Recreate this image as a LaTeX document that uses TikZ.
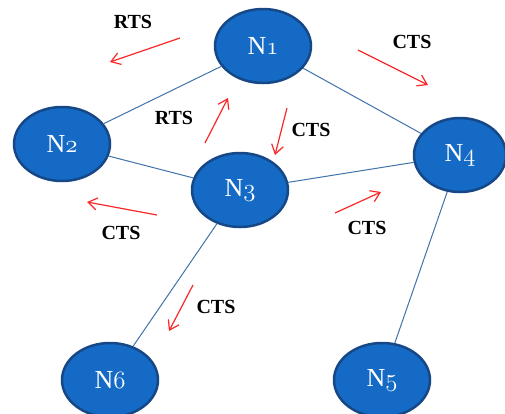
\documentclass[tikz,border=0pt]{standalone}
\usepackage{fontspec}
\newfontfamily\lblfont{Liberation Serif}
\usetikzlibrary{arrows.meta,shapes.geometric}
\definecolor{nodefill}{RGB}{20,106,196}
\definecolor{nodeborder}{RGB}{22,72,135}
\definecolor{edgecol}{RGB}{65,115,170}
\definecolor{arrred}{RGB}{250,40,40}
\newcommand{\osn}[1]{{\usefont{OML}{cmm}{m}{it}#1}}
\begin{document}
\begin{tikzpicture}[x=1pt,y=-1pt,
  netnode/.style={ellipse,draw=nodeborder,line width=2.5pt,fill=nodefill,
    minimum width=96pt,minimum height=74pt,inner sep=0pt,text=white,
    font=\lblfont\fontsize{26}{28}\selectfont},
  edge/.style={draw=edgecol,line width=1pt},
  msg/.style={draw=arrred,line width=1.2pt,-{Straight Barb[length=9pt,width=12pt,line width=1.2pt]}},
  msglabel/.style={font=\lblfont\bfseries\fontsize{20}{22}\selectfont,text=black,inner sep=0pt}]
\clip (0,0) rectangle (505,413);
\fill[white] (0,0) rectangle (505,413);
% nodes
\node[netnode] (n1) at (263,46) {N\osn{1}};
\node[netnode] (n2) at (62,144) {N\osn{2}};
\node[netnode] (n3) at (240,190) {N\osn{3}};
\node[netnode,minimum width=92pt] (n4) at (460,155) {N\osn{4}};
\node[netnode] (n5) at (382,380) {N\osn{5}};
\node[netnode] (n6) at (110,380) {N\osn{6}};
% edges
\draw[edge] (n1) -- (n2);
\draw[edge] (n1) -- (n4);
\draw[edge] (n2) -- (n3);
\draw[edge] (n3) -- (n4);
\draw[edge] (n3) -- (n6);
\draw[edge] (n4) -- (n5);
% message arrows
\coordinate (a1s) at (180,38);  \coordinate (a1e) at (110,62);
\coordinate (a2s) at (205,143); \coordinate (a2e) at (228,98);
\coordinate (a3s) at (287,108); \coordinate (a3e) at (275,155);
\coordinate (a4s) at (358,50);  \coordinate (a4e) at (428,85);
\coordinate (a5s) at (157,215); \coordinate (a5e) at (87,202);
\coordinate (a6s) at (335,213); \coordinate (a6e) at (381,192);
\coordinate (a7s) at (193,285); \coordinate (a7e) at (169,331);
\draw[msg] (a1s) -- (a1e);
\draw[msg] (a2s) -- (a2e);
\draw[msg] (a3s) -- (a3e);
\draw[msg] (a4s) -- (a4e);
\draw[msg] (a5s) -- (a5e);
\draw[msg] (a6s) -- (a6e);
\draw[msg] (a7s) -- (a7e);
% labels
\node[msglabel] (l1) at (133,22) {RTS};
\node[msglabel] (l2) at (174,118) {RTS};
\node[msglabel] (l3) at (311,130) {CTS};
\node[msglabel] (l4) at (412,42) {CTS};
\node[msglabel] (l5) at (121,233) {CTS};
\node[msglabel] (l6) at (367,228) {CTS};
\node[msglabel] (l7) at (216,307) {CTS};
\end{tikzpicture}
\end{document}
